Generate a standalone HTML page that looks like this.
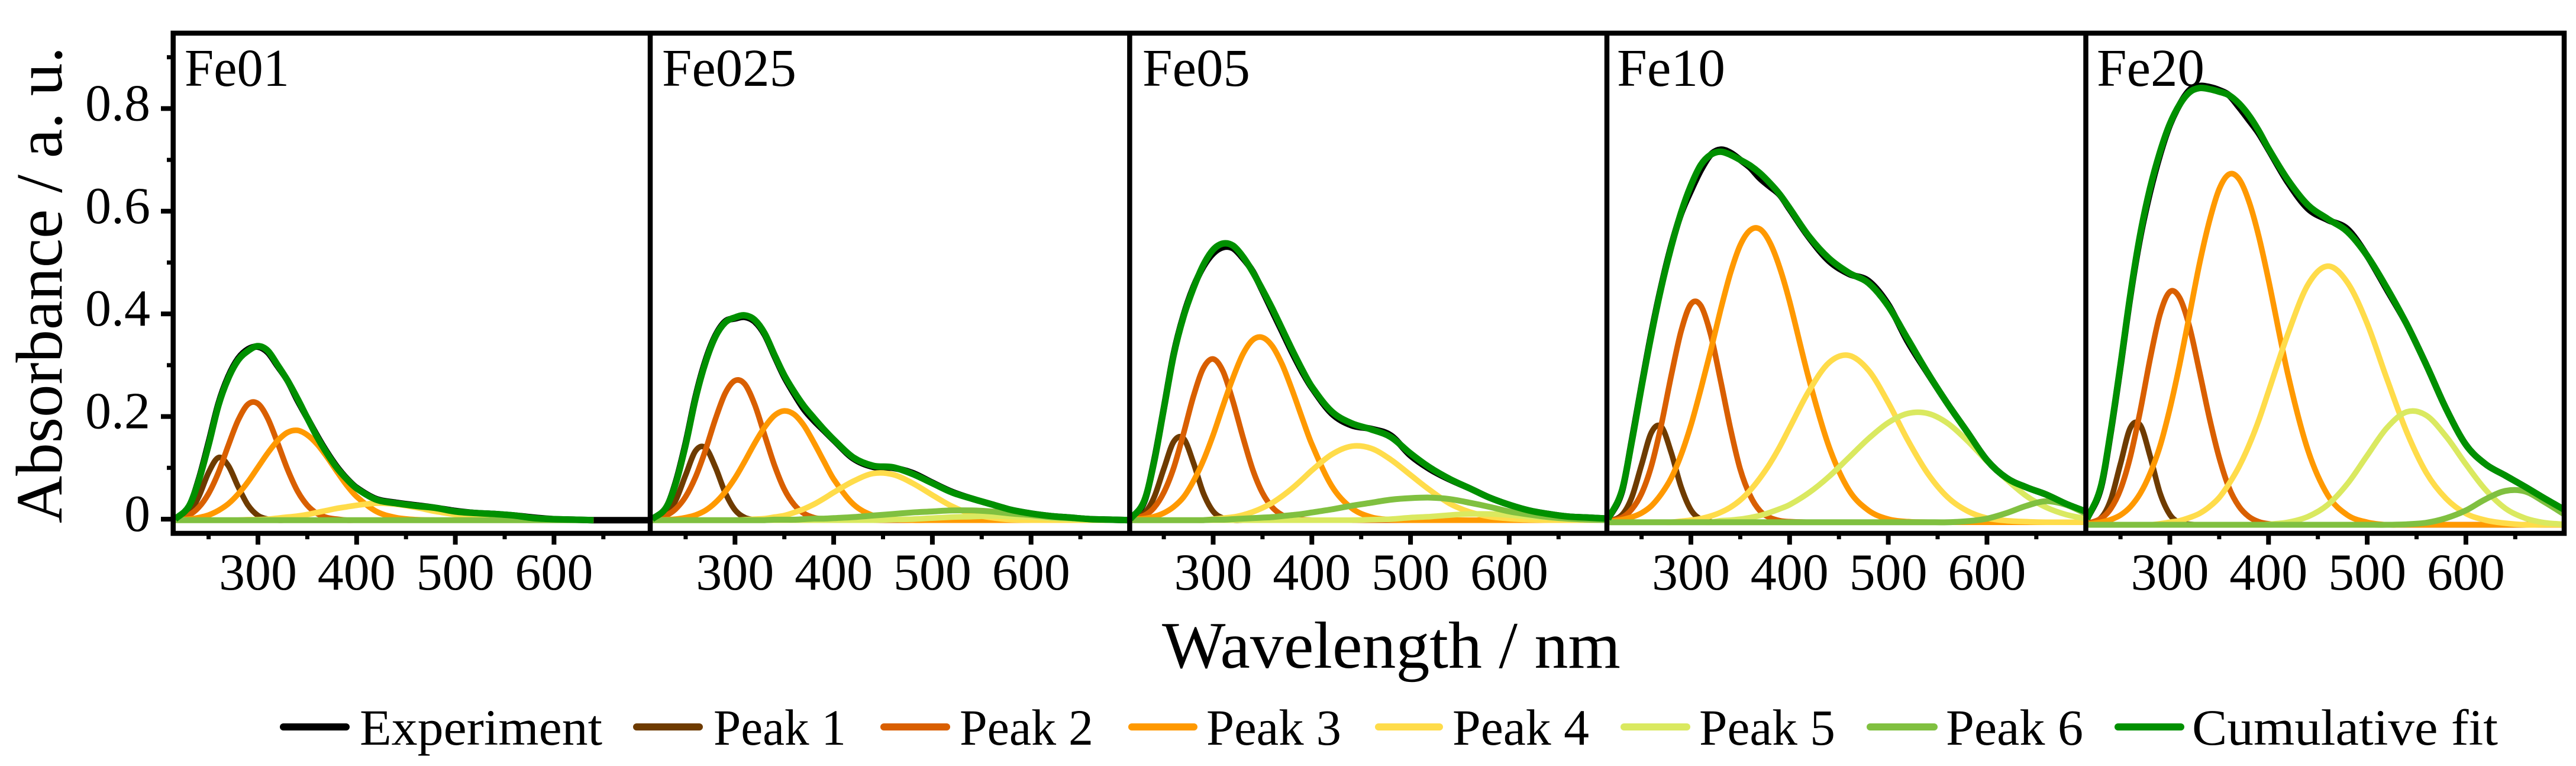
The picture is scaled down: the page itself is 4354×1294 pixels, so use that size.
<!DOCTYPE html>
<html>
<head>
<meta charset="utf-8">
<title>Absorbance peak fits</title>
<style>
html,body{margin:0;padding:0;background:#fff;width:4354px;height:1294px;overflow:hidden}
svg{display:block}
text{font-family:"Liberation Serif",serif;fill:#000}
</style>
</head>
<body>
<svg id="chart" xmlns="http://www.w3.org/2000/svg" width="4354" height="1294" viewBox="0 0 4354 1294">
  <rect x="0" y="0" width="4354" height="1294" fill="#fff"/>
  <g id="curves"></g>
  <g id="frames"></g>
  <g id="ticks"></g>
  <text x="312" y="145" font-size="90" textLength="177" lengthAdjust="spacingAndGlyphs">Fe01</text>
  <text x="1119" y="145" font-size="90" textLength="227" lengthAdjust="spacingAndGlyphs">Fe025</text>
  <text x="1931" y="145" font-size="90" textLength="182" lengthAdjust="spacingAndGlyphs">Fe05</text>
  <text x="2733" y="145" font-size="90" textLength="183" lengthAdjust="spacingAndGlyphs">Fe10</text>
  <text x="3544" y="145" font-size="90" textLength="182" lengthAdjust="spacingAndGlyphs">Fe20</text>
  <text transform="translate(104,884) rotate(-90)" x="0" y="0" font-size="111" textLength="805" lengthAdjust="spacingAndGlyphs">Absorbance / a. u.</text>
  <text x="1964" y="1128" font-size="112" textLength="775" lengthAdjust="spacingAndGlyphs">Wavelength / nm</text>
  <g font-size="86">
    <g>
      <line x1="479" x2="585" y1="1228" y2="1228" stroke="#000000" stroke-width="12" stroke-linecap="round"/>
      <text x="608" y="1258" textLength="410" lengthAdjust="spacingAndGlyphs">Experiment</text>
    </g>
    <g>
      <line x1="1076" x2="1182" y1="1228" y2="1228" stroke="#6E3B00" stroke-width="12" stroke-linecap="round"/>
      <text x="1206" y="1258" textLength="224" lengthAdjust="spacingAndGlyphs">Peak 1</text>
    </g>
    <g>
      <line x1="1494" x2="1600" y1="1228" y2="1228" stroke="#D95F00" stroke-width="12" stroke-linecap="round"/>
      <text x="1622" y="1258" textLength="226" lengthAdjust="spacingAndGlyphs">Peak 2</text>
    </g>
    <g>
      <line x1="1913" x2="2018" y1="1228" y2="1228" stroke="#FF9900" stroke-width="12" stroke-linecap="round"/>
      <text x="2039" y="1258" textLength="228" lengthAdjust="spacingAndGlyphs">Peak 3</text>
    </g>
    <g>
      <line x1="2330" x2="2433" y1="1228" y2="1228" stroke="#FFDC4A" stroke-width="12" stroke-linecap="round"/>
      <text x="2455" y="1258" textLength="231" lengthAdjust="spacingAndGlyphs">Peak 4</text>
    </g>
    <g>
      <line x1="2745" x2="2851" y1="1228" y2="1228" stroke="#DAE960" stroke-width="12" stroke-linecap="round"/>
      <text x="2872" y="1258" textLength="230" lengthAdjust="spacingAndGlyphs">Peak 5</text>
    </g>
    <g>
      <line x1="3161" x2="3269" y1="1228" y2="1228" stroke="#80C040" stroke-width="12" stroke-linecap="round"/>
      <text x="3289" y="1258" textLength="232" lengthAdjust="spacingAndGlyphs">Peak 6</text>
    </g>
    <g>
      <line x1="3580" x2="3686" y1="1228" y2="1228" stroke="#009000" stroke-width="12" stroke-linecap="round"/>
      <text x="3705" y="1258" textLength="517" lengthAdjust="spacingAndGlyphs">Cumulative fit</text>
    </g>
  </g>
</svg>
<script>
// Shared wavelength samples (nm)
const wavelengths = [216,230,240,250,260,270,280,290,300,310,320,330,340,350,360,370,380,390,400,
  420,440,460,480,500,520,540,560,580,600,620,640,660,680,700];

// Fe01
const fe01Experiment = [0,.024,.077,.149,.225,.278,.313,.331,.336,.325,.298,.270,.232,.197,.162,.130,.102,.079,.061,
  .039,.032,.027,.022,.016,.012,.010,.007,.003,0,-.001,-.002,-.002,-.002,-.002];
const fe01Peak1 = [-.001,.012,.044,.091,.120,.104,.063,.027,.007,0,-.002,-.002,-.002,-.002,-.002,-.002,-.002,-.002,-.002,
  -.002,-.002,-.002,-.002,-.002,-.002,-.002,-.002,-.002,-.002,-.002,-.002,null,null,null];
const fe01Peak2 = [0,.008,.023,.050,.091,.144,.193,.224,.225,.196,.148,.097,.055,.027,.011,.003,0,-.002,-.002,
  -.002,-.002,-.002,-.002,-.002,-.002,-.002,-.002,-.002,-.002,-.002,-.002,null,null,null];
const fe01Peak3 = [-.002,0,.003,.008,.017,.030,.049,.073,.101,.129,.153,.169,.173,.164,.146,.121,.093,.066,.044,
  .015,.003,-.001,-.002,-.002,-.002,-.002,-.002,-.002,-.002,-.002,-.002,null,null,null];
const fe01Peak4 = [-.002,-.002,-.002,-.002,-.002,-.002,-.002,-.001,-.001,0,.002,.004,.006,.009,.013,.017,.021,.024,.027,
  .031,.029,.023,.015,.009,.004,.001,-.001,-.002,-.002,-.002,-.002,null,null,null];
const fe01Peak5 = [-.002,-.002,-.002,-.002,-.002,-.002,-.002,-.002,-.002,-.002,-.002,-.002,-.002,-.002,-.002,-.002,-.002,-.002,-.002,
  -.002,-.002,-.002,-.002,-.002,-.002,-.002,-.002,-.002,-.002,-.002,-.002,null,null,null];
const fe01Peak6 = [-.002,-.002,-.002,-.002,-.002,-.002,-.002,-.002,-.002,-.002,-.002,-.002,-.002,-.002,-.002,-.002,-.002,-.002,-.002,
  -.002,-.002,-.002,-.002,-.002,-.002,-.002,-.002,-.002,-.002,-.002,-.002,null,null,null];
const fe01Fit = [0,.025,.075,.145,.222,.275,.31,.328,.337,.328,.30,.27,.235,.197,.16,.128,.10,.078,.06,
  .038,.031,.026,.022,.015,.012,.010,.007,.002,0,-.001,-.002,null,null,null];

// Fe025
const fe025Experiment = [0,.021,.072,.148,.238,.308,.357,.385,.391,.394,.385,.36,.318,.277,.244,.214,.192,.173,.154,
  .118,.102,.100,.09,.071,.053,.04,.029,.018,.011,.006,.003,0,-.001,-.002];
const fe025Peak1 = [-.001,.010,.037,.086,.133,.139,.102,.052,.018,.003,-.001,-.002,-.002,-.002,-.002,-.002,-.002,-.002,-.002,
  -.002,-.002,-.002,-.002,-.002,-.002,-.002,-.002,-.002,-.002,-.002,-.002,-.002,-.002,-.002];
const fe025Peak2 = [0,.007,.020,.044,.082,.134,.194,.245,.270,.263,.223,.164,.105,.058,.028,.011,.003,0,-.001,
  -.002,-.002,-.002,-.002,-.002,-.002,-.002,-.002,-.002,-.002,-.002,-.002,-.002,-.002,-.002];
const fe025Peak3 = [-.002,-.001,0,.003,.008,.017,.032,.053,.080,.113,.148,.179,.202,.211,.204,.182,.149,.113,.078,
  .029,.007,0,-.002,-.002,-.002,-.002,-.002,-.002,-.002,-.002,-.002,-.002,-.002,-.002];
const fe025Peak4 = [-.002,-.002,-.002,-.002,-.002,-.002,-.002,-.002,-.002,-.001,0,.001,.004,.007,.013,.020,.029,.040,.052,
  .074,.089,.087,.070,.047,.025,.010,.003,-.001,-.002,-.002,-.002,-.002,-.002,-.002];
const fe025Peak5 = [-.002,-.002,-.002,-.002,-.002,-.002,-.002,-.002,-.002,-.002,-.002,-.002,-.002,-.002,-.002,-.002,-.002,-.002,-.002,
  -.002,-.002,-.001,0,.002,.004,.005,.006,.005,.004,.002,0,-.001,-.002,-.002];
const fe025Peak6 = [-.002,-.002,-.002,-.002,-.002,-.002,-.002,-.002,-.002,-.002,-.002,-.002,-.001,-.001,-.001,0,.001,.001,.002,
  .004,.007,.010,.013,.015,.017,.017,.015,.011,.008,.004,.002,0,-.001,-.002];
const fe025Fit = [0,.022,.07,.145,.235,.305,.355,.383,.393,.397,.388,.362,.32,.28,.248,.22,.197,.175,.155,
  .12,.104,.101,.088,.07,.052,.04,.029,.018,.011,.006,.003,0,-.001,-.002];

// Fe05
const fe05Experiment = [0,.033,.112,.216,.322,.397,.452,.492,.518,.53,.528,.509,.483,.445,.405,.365,.325,.288,.256,
  .206,.183,.176,.163,.124,.097,.077,.06,.042,.028,.017,.01,.005,.003,.001];
const fe05Peak1 = [-.001,.011,.042,.098,.151,.157,.110,.051,.015,.002,-.002,-.002,-.002,-.002,-.002,-.002,-.002,-.002,-.002,
  -.002,-.002,-.002,-.002,-.002,-.002,-.002,-.002,-.002,-.002,-.002,-.002,-.002,-.002,-.002];
const fe05Peak2 = [0,.007,.022,.052,.100,.167,.239,.294,.312,.288,.230,.161,.097,.051,.023,.008,.002,-.001,-.002,
  -.002,-.002,-.002,-.002,-.002,-.002,-.002,-.002,-.002,-.002,-.002,-.002,-.002,-.002,-.002];
const fe05Peak3 = [0,.001,.005,.012,.024,.043,.074,.114,.164,.221,.275,.321,.349,.354,.337,.301,.252,.198,.146,
  .065,.022,.004,-.001,-.002,-.002,-.002,-.002,-.002,-.002,-.002,-.002,-.002,-.002,-.002];
const fe05Peak4 = [-.002,-.002,-.002,-.002,-.002,-.002,-.002,-.002,0,.002,.004,.008,.014,.022,.032,.045,.060,.077,.095,
  .126,.142,.138,.116,.086,.056,.030,.014,.005,.001,-.001,-.002,-.002,-.002,-.002];
const fe05Peak5 = [-.002,-.002,-.002,-.002,-.002,-.002,-.002,-.002,-.002,-.002,-.002,-.002,-.002,-.002,-.002,-.002,-.002,-.002,-.002,
  -.002,-.002,-.001,0,.003,.005,.008,.010,.010,.008,.005,.003,0,-.001,-.002];
const fe05Peak6 = [-.002,-.002,-.002,-.002,-.002,-.002,-.002,-.002,-.001,-.001,0,.001,.002,.003,.004,.006,.008,.010,.013,
  .019,.026,.032,.038,.041,.042,.039,.032,.024,.015,.009,.004,.001,-.001,-.002];
const fe05Fit = [0,.035,.11,.215,.32,.395,.45,.495,.525,.537,.533,.512,.482,.447,.41,.37,.33,.292,.258,
  .21,.187,.175,.16,.128,.10,.078,.06,.042,.028,.017,.01,.005,.003,.001];

// Fe10
const fe10Experiment = [0,.053,.152,.26,.363,.454,.532,.595,.64,.68,.71,.72,.714,.70,.685,.664,.648,.632,.604,
  .548,.503,.478,.464,.418,.345,.284,.225,.17,.115,.08,.062,.048,.03,.015];
const fe10Peak1 = [-.005,.008,.042,.106,.169,.180,.130,.063,.018,0,-.005,-.006,-.006,-.006,-.006,-.006,-.006,-.006,-.006,
  -.006,-.006,-.006,-.006,-.006,-.006,-.006,-.006,-.006,-.006,-.006,-.006,-.006,-.006,-.006];
const fe10Peak2 = [-.004,.003,.019,.050,.104,.184,.279,.366,.419,.416,.360,.271,.177,.097,.046,.016,.003,-.003,-.005,
  -.006,-.006,-.006,-.006,-.006,-.006,-.006,-.006,-.006,-.006,-.006,-.006,-.006,-.006,-.006];
const fe10Peak3 = [-.005,-.001,.004,.012,.026,.049,.080,.125,.183,.253,.328,.407,.479,.534,.563,.565,.539,.490,.424,
  .270,.141,.057,.017,0,-.005,-.006,-.006,-.006,-.006,-.006,-.006,-.006,-.006,-.006];
const fe10Peak4 = [-.006,-.006,-.006,-.006,-.006,-.006,-.006,-.004,-.002,.001,.006,.013,.023,.037,.056,.080,.108,.141,.178,
  .251,.305,.319,.290,.227,.153,.089,.043,.016,.002,-.003,-.005,-.006,-.006,-.006];
const fe10Peak5 = [-.006,-.006,-.006,-.006,-.006,-.006,-.006,-.006,-.006,-.006,-.006,-.003,-.002,0,.003,.007,.013,.020,.028,
  .052,.083,.120,.157,.188,.206,.206,.187,.153,.113,.077,.045,.023,.009,.001];
const fe10Peak6 = [-.006,-.006,-.006,-.006,-.006,-.006,-.006,-.006,-.006,-.006,-.006,-.006,-.006,-.006,-.006,-.006,-.006,-.006,-.006,
  -.006,-.006,-.006,-.006,-.006,-.006,-.006,-.006,-.004,.001,.012,.026,.035,.028,.011];
const fe10Fit = [0,.055,.15,.258,.36,.452,.53,.597,.65,.69,.71,.716,.71,.70,.689,.674,.655,.633,.606,
  .55,.508,.48,.46,.415,.35,.285,.225,.17,.115,.08,.062,.048,.03,.015];

// Fe20
const fe20Experiment = [0,.06,.168,.298,.435,.55,.638,.71,.768,.808,.836,.844,.842,.836,.826,.803,.778,.752,.72,
  .655,.605,.583,.565,.513,.447,.38,.30,.215,.145,.107,.085,.063,.04,.018];
const fe20Peak1 = [-.010,.002,.037,.108,.178,.183,.123,.051,.009,-.007,-.010,-.011,-.011,-.011,-.011,-.011,-.011,-.011,-.011,
  -.011,-.011,-.011,-.011,-.011,-.011,-.011,-.011,-.011,-.011,-.011,-.011,-.011,-.011,-.011];
const fe20Peak2 = [-.009,.001,.020,.058,.122,.211,.312,.399,.443,.431,.374,.288,.198,.120,.061,.025,.005,-.005,-.009,
  -.011,-.011,-.011,-.011,-.011,-.011,-.011,-.011,-.011,-.011,-.011,-.011,-.011,-.011,-.011];
const fe20Peak3 = [-.010,-.006,-.001,.008,.024,.050,.089,.142,.215,.302,.399,.497,.580,.643,.672,.663,.620,.552,.466,
  .279,.134,.047,.008,-.006,-.011,-.011,-.011,-.011,-.011,-.011,-.011,-.011,-.011,-.011];
const fe20Peak4 = [-.011,-.011,-.011,-.011,-.011,-.011,-.011,-.009,-.006,-.003,.003,.011,.024,.042,.069,.102,.143,.192,.249,
  .363,.457,.493,.461,.381,.273,.170,.090,.040,.011,-.002,-.008,-.011,-.011,-.011];
const fe20Peak5 = [-.011,-.011,-.011,-.011,-.011,-.011,-.011,-.011,-.011,-.011,-.011,-.011,-.011,-.011,-.011,-.011,-.011,-.011,-.010,
  -.006,.005,.028,.069,.124,.178,.209,.202,.161,.107,.057,.021,.002,-.007,-.010];
const fe20Peak6 = [-.011,-.011,-.011,-.011,-.011,-.011,-.011,-.011,-.011,-.011,-.011,-.011,-.011,-.011,-.011,-.011,-.011,-.011,-.011,
  -.011,-.011,-.011,-.011,-.011,-.011,-.010,-.007,.002,.017,.039,.055,.054,.033,.009];
const fe20Fit = [0,.0625,.17,.30,.4375,.555,.645,.715,.77,.808,.832,.84,.838,.833,.826,.81,.787,.757,.722,
  .66,.612,.585,.56,.513,.45,.38,.30,.215,.145,.107,.085,.063,.04,.018];

// Axis tick values and labels
const yMajorTicks = [0,.2,.4,.6,.8];
const yTickLabels = ['0','0.2','0.4','0.6','0.8'];
const yMinorTicks = [.1,.3,.5,.7,.9];
const xMajorTicks = [300,400,500,600];
const xTickLabels = ['300','400','500','600'];
const xMinorTicks = [250,350,450,550,650];

const seriesNames = ['experiment','peak-1','peak-2','peak-3','peak-4','peak-5','peak-6','cumulative-fit'];
const seriesColors = ['#000000','#6E3B00','#D95F00','#FF9900','#FFDC4A','#DAE960','#80C040','#009000'];
const seriesWidths = [11,9.5,9.5,9.5,9.5,9.5,10,11];

const panels = [
  {name:'fe01',  x300:436,    left:292.7,  series:[fe01Experiment,fe01Peak1,fe01Peak2,fe01Peak3,fe01Peak4,fe01Peak5,fe01Peak6,fe01Fit]},
  {name:'fe025', x300:1242.3, left:1099,   series:[fe025Experiment,fe025Peak1,fe025Peak2,fe025Peak3,fe025Peak4,fe025Peak5,fe025Peak6,fe025Fit]},
  {name:'fe05',  x300:2050.5, left:1909.4, series:[fe05Experiment,fe05Peak1,fe05Peak2,fe05Peak3,fe05Peak4,fe05Peak5,fe05Peak6,fe05Fit]},
  {name:'fe10',  x300:2858,   left:2716,   series:[fe10Experiment,fe10Peak1,fe10Peak2,fe10Peak3,fe10Peak4,fe10Peak5,fe10Peak6,fe10Fit]},
  {name:'fe20',  x300:3667.5, left:3525.5, series:[fe20Experiment,fe20Peak1,fe20Peak2,fe20Peak3,fe20Peak4,fe20Peak5,fe20Peak6,fe20Fit]}
];

const NS = 'http://www.w3.org/2000/svg';
const frameTop = 56, frameBottom = 901, frameRight = 4334;
function yScale(v){ return 877 - 867 * v; }
function xScale(panel, nm){ return panel.x300 + (nm - 300) * 1.668; }

function make(tag, parent, attrs){
  const el = document.createElementNS(NS, tag);
  for (const k in attrs) el.setAttribute(k, attrs[k]);
  parent.appendChild(el);
  return el;
}

function curvePath(panel, values){
  const pts = [];
  for (let i = 0; i < wavelengths.length; i++){
    if (values[i] === null || values[i] === undefined) break;
    pts.push([xScale(panel, wavelengths[i]), yScale(values[i])]);
  }
  const slope = pts.map((p, i) => {
    const a = pts[Math.max(0, i - 1)], b = pts[Math.min(pts.length - 1, i + 1)];
    return (b[1] - a[1]) / (b[0] - a[0]);
  });
  let d = 'M' + pts[0][0].toFixed(1) + ' ' + pts[0][1].toFixed(1);
  for (let i = 1; i < pts.length; i++){
    const h = (pts[i][0] - pts[i-1][0]) / 3;
    d += 'C' + (pts[i-1][0] + h).toFixed(1) + ' ' + (pts[i-1][1] + slope[i-1] * h).toFixed(1) +
         ' ' + (pts[i][0] - h).toFixed(1) + ' ' + (pts[i][1] - slope[i] * h).toFixed(1) +
         ' ' + pts[i][0].toFixed(1) + ' ' + pts[i][1].toFixed(1);
  }
  return d;
}

const curvesLayer = document.getElementById('curves');
const framesLayer = document.getElementById('frames');
const ticksLayer = document.getElementById('ticks');

panels.forEach(panel => {
  const group = make('g', curvesLayer, {});
  
  
  panel.series.forEach((values, s) => {
    const line = make('path', group, {
      d: curvePath(panel, values), fill: 'none', stroke: seriesColors[s],
      'stroke-width': seriesWidths[s], 'stroke-linejoin': 'round'
    });
    
    
  });

  if (panel.left > 300){
    const spine = make('line', framesLayer, {
      x1: panel.left, x2: panel.left, y1: frameTop, y2: frameBottom,
      stroke: '#000', 'stroke-width': 8.5
    });
    
    
  }

  xMajorTicks.forEach((nm, i) => {
    const tick = make('line', ticksLayer, {
      x1: xScale(panel, nm), x2: xScale(panel, nm), y1: frameBottom, y2: 920,
      stroke: '#000', 'stroke-width': 8
    });
    
    
    const label = make('text', ticksLayer, {
      x: xScale(panel, nm), y: 996, 'font-size': 88, 'text-anchor': 'middle'
    });
    
    
    label.textContent = xTickLabels[i];
  });
  xMinorTicks.forEach(nm => {
    const tick = make('line', ticksLayer, {
      x1: xScale(panel, nm), x2: xScale(panel, nm), y1: frameBottom, y2: 911,
      stroke: '#000', 'stroke-width': 7
    });
    
    
  });
});

const frame = make('rect', framesLayer, {
  x: 292.7, y: frameTop, width: frameRight - 292.7, height: frameBottom - frameTop,
  fill: 'none', stroke: '#000', 'stroke-width': 8.5
});



yMajorTicks.forEach((v, i) => {
  const tick = make('line', ticksLayer, {
    x1: 272, x2: 292, y1: yScale(v), y2: yScale(v), stroke: '#000', 'stroke-width': 8
  });
  
  
  const label = make('text', ticksLayer, {
    x: 254, y: yScale(v) + 20, 'font-size': 88, 'text-anchor': 'end'
  });
  
  
  label.textContent = yTickLabels[i];
});
yMinorTicks.forEach(v => {
  const tick = make('line', ticksLayer, {
    x1: 282, x2: 292, y1: yScale(v), y2: yScale(v), stroke: '#000', 'stroke-width': 7
  });
  
  
});
</script>
</body>
</html>
